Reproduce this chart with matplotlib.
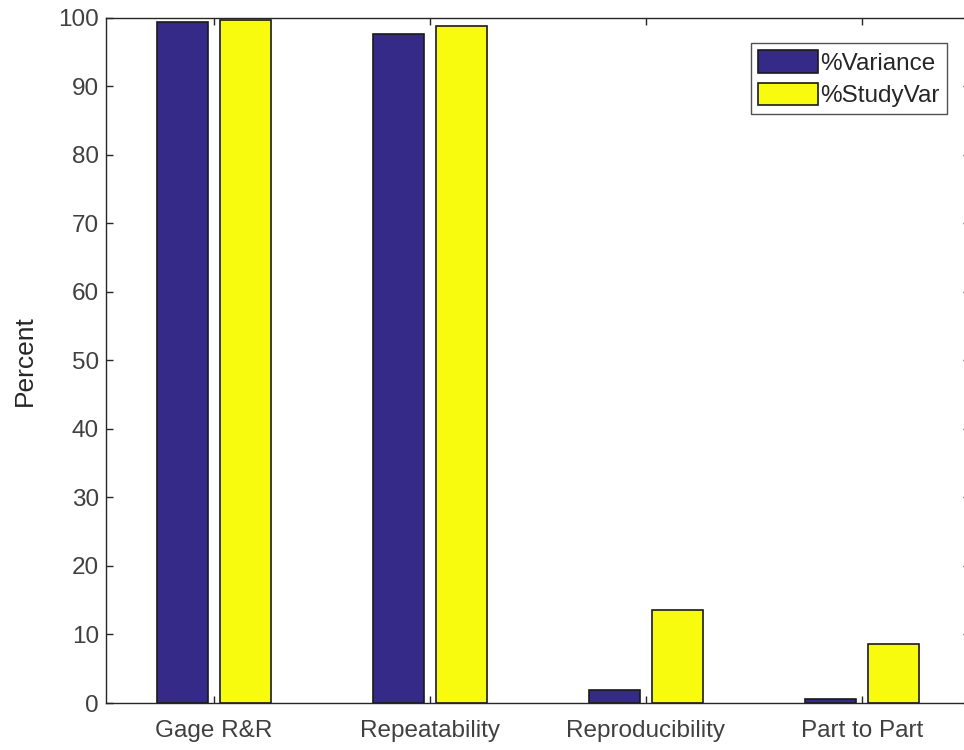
import matplotlib
matplotlib.use("Agg")
import matplotlib.pyplot as plt
import numpy as np

categories = ["Gage R&R", "Repeatability", "Reproducibility", "Part to Part"]
pct_variance = [99.3, 97.6, 1.9, 0.6]
pct_studyvar = [99.6, 98.8, 13.5, 8.6]
yticks = [0, 10, 20, 30, 40, 50, 60, 70, 80, 90, 100]

plt.rcParams['font.family'] = ['Liberation Sans', 'DejaVu Sans']

fig = plt.figure(figsize=(9.64, 7.5), dpi=100)
ax = fig.add_axes([106/964, 47/750, (970-106)/964, (703-17.5)/750])

x = np.arange(1, len(categories) + 1)
w = 0.236
off = 0.145
ax.bar(x - off, pct_variance, w, color='#352a87', edgecolor='#1a1a1a', linewidth=1.2, label='%Variance')
ax.bar(x + off, pct_studyvar, w, color='#f9fb0e', edgecolor='#1a1a1a', linewidth=1.2, label='%StudyVar')

ax.set_xlim(0.5, 4.5)
ax.set_ylim(0, 100)
ax.set_xticks(x)
ax.set_xticklabels(categories)
ax.set_yticks(yticks)
ax.tick_params(direction='in', length=5, width=1, colors='#262626', labelsize=17.5,
               labelcolor='#404040', pad=5, top=True, right=True)
ax.tick_params(axis='x', pad=12)
for s in ax.spines.values():
    s.set_color('#262626')
    s.set_linewidth(1)
ax.set_ylabel('Percent', fontsize=19, color='#262626')
ax.yaxis.set_label_coords((37 - 106) / 864, 0.5)

fs = 17.5
leg = ax.legend(loc='upper right', bbox_to_anchor=(947/964, 1 - 43/750),
                bbox_transform=fig.transFigure, fontsize=fs, frameon=True,
                fancybox=False, edgecolor='#262626', handlelength=2.45, handleheight=1.05,
                handletextpad=0.1, borderpad=0.3, labelspacing=0.32, borderaxespad=0)
leg.get_frame().set_linewidth(1)
for t in leg.get_texts():
    t.set_color('#262626')

fig.savefig('out.png', dpi=100)
